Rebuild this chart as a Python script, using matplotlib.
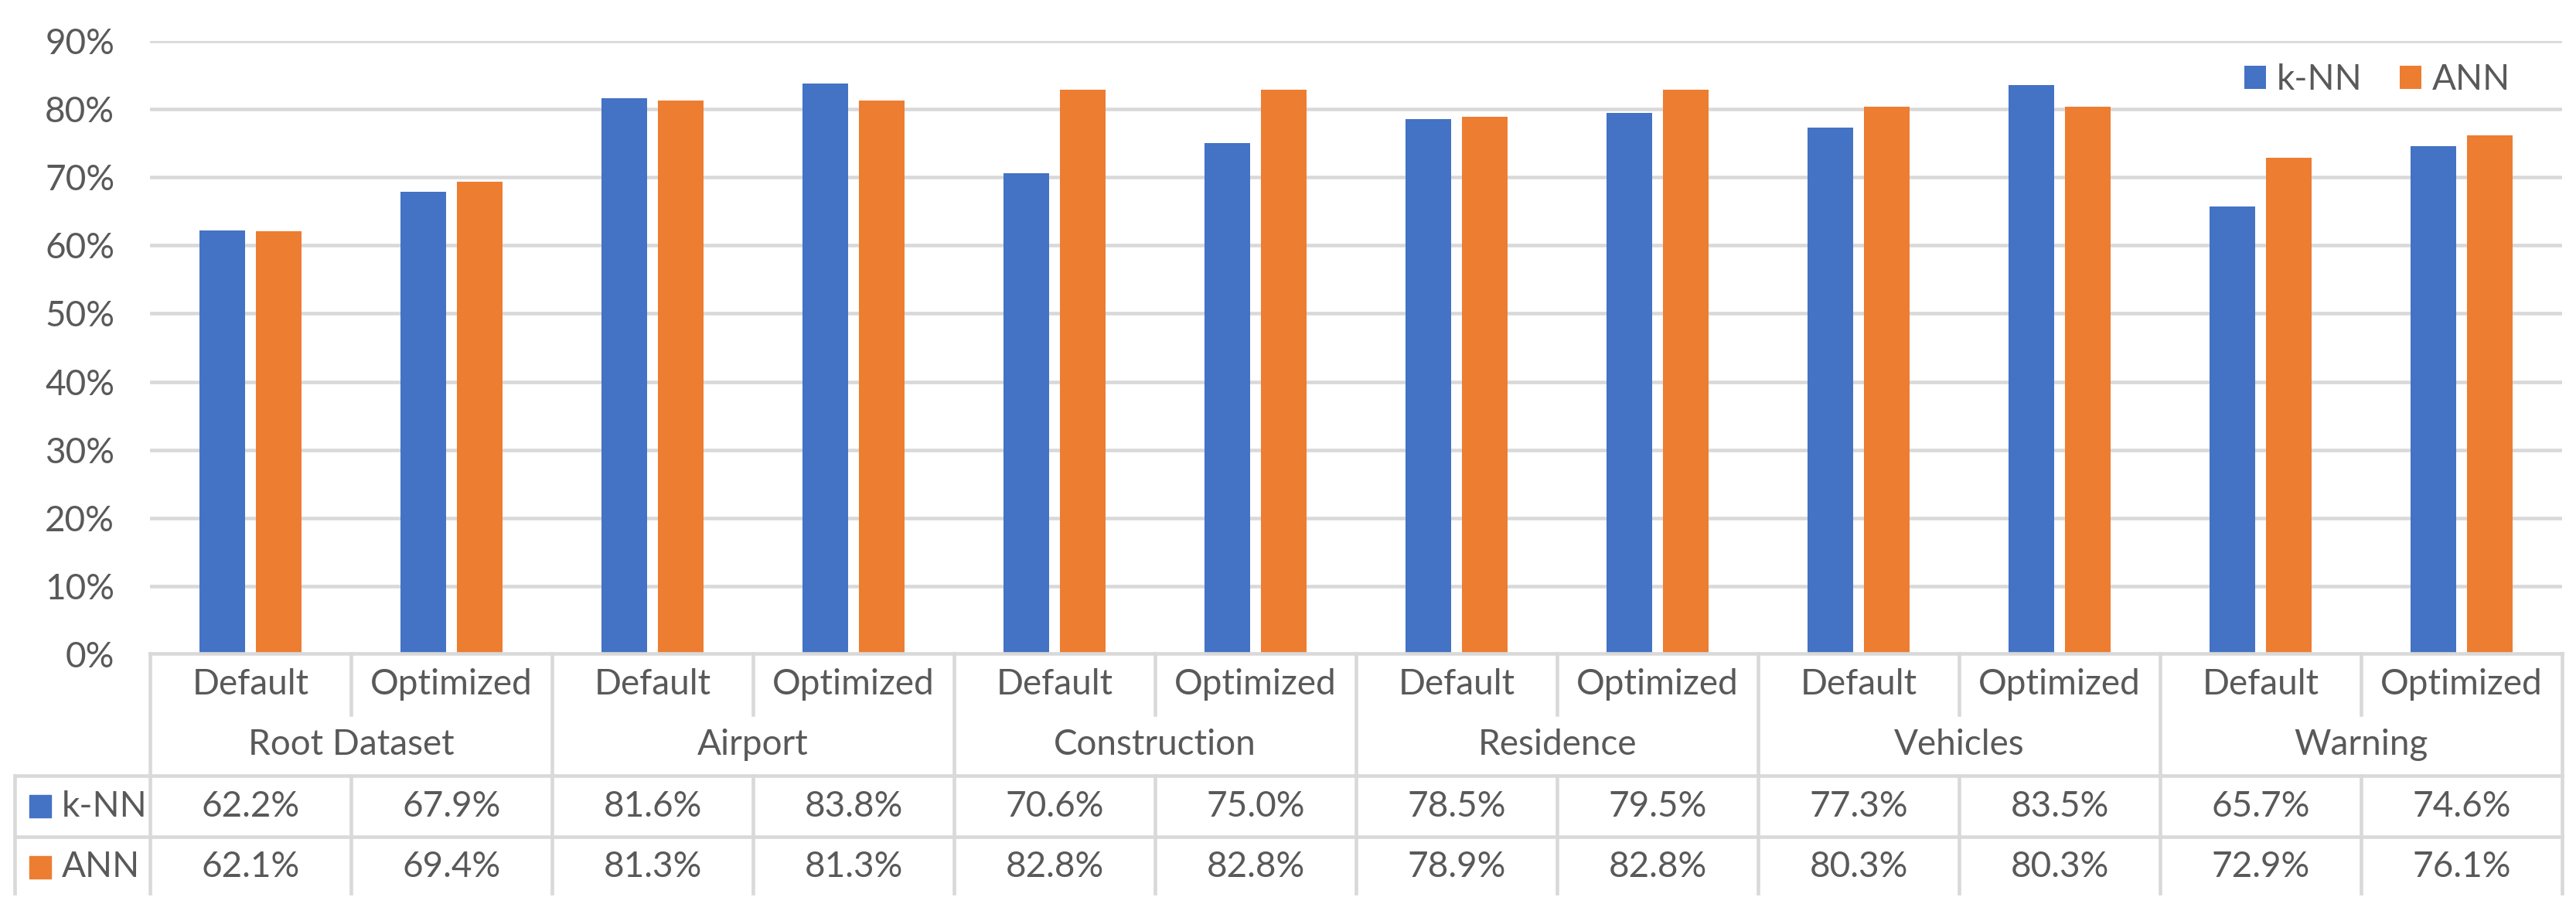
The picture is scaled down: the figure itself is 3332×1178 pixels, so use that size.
import matplotlib
matplotlib.use("Agg")
import matplotlib.pyplot as plt
from matplotlib.patches import Rectangle
import numpy as np

plt.rcParams['font.family'] = ['Lato', 'DejaVu Sans']

groups = ["Root Dataset", "Airport", "Construction", "Residence", "Vehicles", "Warning"]
settings = ["Default", "Optimized"]
knn = [62.2, 67.9, 81.6, 83.8, 70.6, 75.0, 78.5, 79.5, 77.3, 83.5, 65.7, 74.6]
ann = [62.1, 69.4, 81.3, 81.3, 82.8, 82.8, 78.9, 82.8, 80.3, 80.3, 72.9, 76.1]
series_names = ["k-NN", "ANN"]
yticks = [0, 10, 20, 30, 40, 50, 60, 70, 80, 90]

BLUE = "#4472C4"
ORANGE = "#ED7D31"
TXT = "#595959"
GRID = "#D9D9D9"
FS = 33
LW = 3.3

W, H = 3332, 1178
fig = plt.figure(figsize=(W / 100, H / 100), dpi=100)

x_left, x_right = 194, 3314
y_zero, y_top = 846, 53
ax = fig.add_axes([x_left / W, (H - y_zero) / H, (x_right - x_left) / W, (y_zero - y_top) / H])

n = len(knn)
x = np.arange(n)
bw = 0.227
off = 0.142
ax.bar(x - off, knn, bw, color=BLUE, zorder=3, label=series_names[0])
ax.bar(x + off, ann, bw, color=ORANGE, zorder=3, label=series_names[1])
ax.set_xlim(-0.5, n - 0.5)
ax.set_ylim(0, 90)
ax.set_yticks(yticks)
ax.set_yticklabels([f"{v}%" for v in yticks], fontsize=FS, color=TXT)
ax.tick_params(axis='y', length=0, pad=33)
ax.set_xticks([])
for s in ax.spines.values():
    s.set_visible(False)
ax.grid(axis='y', color=GRID, linewidth=LW, zorder=0)
ax.set_axisbelow(True)

leg = ax.legend(loc='center', bbox_to_anchor=(3075 / W, (H - 103) / H), bbox_transform=fig.transFigure,
                ncol=2, frameon=False, fontsize=FS, handlelength=0.62, handleheight=0.62,
                handletextpad=0.3, columnspacing=1.05, borderpad=0, borderaxespad=0)
for t in leg.get_texts():
    t.set_color(TXT)

# table axes
row_h = 79
t_top = y_zero - 1
tax = fig.add_axes([x_left / W, (H - (t_top + 4 * row_h)) / H, (x_right - x_left) / W, 4 * row_h / H])
tax.set_xlim(-0.5, n - 0.5)
tax.set_ylim(4, 0)
tax.axis('off')
left_edge = -0.5 - (x_left - 19) / 260.0
yb = 3.92

def line(xs, ys):
    tax.plot(xs, ys, color=GRID, linewidth=LW, clip_on=False, solid_capstyle='projecting')

line([-0.5, n - 0.5], [0, 0])
line([left_edge, n - 0.5], [2, 2])
line([left_edge, n - 0.5], [3, 3])
line([left_edge, left_edge], [2, yb])
for k in range(n + 1):
    xv = -0.5 + k
    if k % 2 == 0:
        line([xv, xv], [0, yb])
    else:
        line([xv, xv], [0, 1])
        line([xv, xv], [2, yb])

for i in range(n):
    tax.text(i, 0.5, settings[i % 2], ha='center', va='center', fontsize=FS, color=TXT)
    tax.text(i, 2.5, f"{knn[i]:.1f}%", ha='center', va='center', fontsize=FS, color=TXT)
    tax.text(i, 3.5, f"{ann[i]:.1f}%", ha='center', va='center', fontsize=FS, color=TXT)
for g, name in enumerate(groups):
    tax.text(2 * g + 0.5, 1.5, name, ha='center', va='center', fontsize=FS, color=TXT)

sq_x = -0.5 - (x_left - 38) / 260.0
sq_w = 28 / 260.0
sq_h = 29 / row_h
txt_x = -0.5 - (x_left - 80) / 260.0
for r, (name, col) in enumerate(zip(series_names, [BLUE, ORANGE])):
    yc = 2.5 + r
    tax.add_patch(Rectangle((sq_x, yc - sq_h / 2), sq_w, sq_h, color=col, clip_on=False))
    tax.text(txt_x, yc, name, ha='left', va='center', fontsize=FS, color=TXT)

fig.savefig("out.png", dpi=100, facecolor='white')
